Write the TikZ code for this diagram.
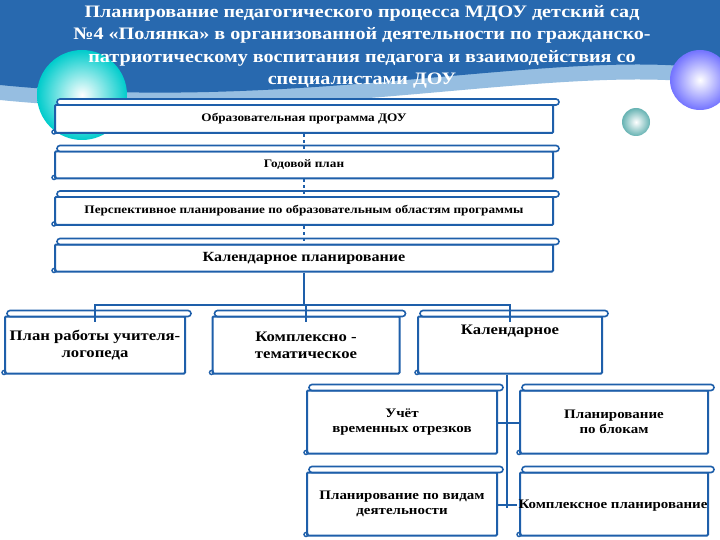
\documentclass[tikz,border=0pt]{standalone}
\usepackage{fontspec}
\setmainfont{Liberation Serif}
\newfontfamily\widefont[FakeStretch=1.15]{Liberation Serif}
\usetikzlibrary{positioning}
\definecolor{scrollblue}{RGB}{30,95,170}
\definecolor{bandblue}{RGB}{40,105,175}
\definecolor{waveblue}{RGB}{150,190,225}
\tikzset{
  scrollbox/.style={draw=scrollblue,line width=2pt,fill=white,rounded corners=1pt,
    inner sep=2pt,align=center},
  linkline/.style={draw=scrollblue,line width=1.6pt},
}
% rolled top strip and curl of a scroll node
\newcommand{\scrollroll}[1]{%
  \draw[scrollblue,line width=1.6pt,fill=white,rounded corners=3pt]
    ([xshift=3pt,yshift=-1pt]#1.north west) rectangle ([xshift=5pt,yshift=5pt]#1.north east);
  \draw[scrollblue,line width=1.4pt] ([yshift=2pt]#1.south west) circle (2pt);
}
\begin{document}
\begin{tikzpicture}[x=1pt,y=-1pt]
\useasboundingbox (0,0) rectangle (720,540);
\fill[white] (0,0) rectangle (720,540);
% header band
\fill[waveblue] (0,0) -- (720,0) -- (720,85) .. controls (560,60) and (300,130) .. (0,100) -- cycle;
\fill[bandblue] (0,0) -- (720,0) -- (720,70) .. controls (560,45) and (300,115) .. (0,85) -- cycle;
\shade[inner color=white,outer color=cyan!60!teal] (82,95) circle (45);
\shade[inner color=white,outer color=blue!55] (700,80) circle (30);
\shade[inner color=white,outer color=teal!60] (636,122) circle (14);
\node[text=white,font=\widefont\bfseries\fontsize{17.5}{22.5}\selectfont,align=center] (title) at (362,47)
  {Планирование педагогического процесса МДОУ детский сад\\
   №4 «Полянка» в организованной деятельности по гражданско-\\
   патриотическому воспитания педагога и взаимодействия со\\
   специалистами ДОУ};
% upper chain
\node[scrollbox,minimum width=498,minimum height=28,font=\widefont\bfseries\fontsize{11.5}{13}\selectfont] (prog) at (304,119) {Образовательная программа ДОУ};
\node[scrollbox,minimum width=498,minimum height=27,font=\widefont\bfseries\fontsize{11.5}{13}\selectfont] (year) at (304,165) {Годовой план};
\node[scrollbox,minimum width=498,minimum height=28,font=\widefont\bfseries\fontsize{11.5}{13}\selectfont] (persp) at (304,211) {Перспективное планирование по образовательным областям программы};
\node[scrollbox,minimum width=498,minimum height=27,font=\widefont\bfseries\fontsize{14}{16}\selectfont] (cal) at (304,258) {Календарное планирование};
\foreach \n in {prog,year,persp,cal} {\scrollroll{\n}}
\draw[linkline,dashed] (prog) -- (year);
\draw[linkline,dashed] (year) -- (persp);
\draw[linkline,dashed] (persp) -- (cal);
% middle row
\node[scrollbox,minimum width=180,minimum height=57,font=\widefont\bfseries\fontsize{14.5}{17}\selectfont] (logo) at (95,345) {План работы учителя-\\логопеда};
\node[scrollbox,minimum width=187,minimum height=57,font=\widefont\bfseries\fontsize{14.5}{17}\selectfont] (compl) at (306,345) {Комплексно -\\тематическое};
\node[scrollbox,minimum width=184,minimum height=57,font=\widefont\bfseries\fontsize{14.5}{17}\selectfont] (calend) at (510,345) {Календарное\\[14pt]};
\foreach \n in {logo,compl,calend} {\scrollroll{\n}}
\coordinate (fork) at (304,305);
\draw[linkline] (cal.south) -- (fork);
\draw[linkline] (fork) -| ([yshift=-6pt]logo.north);
\draw[linkline] (fork) -| ([yshift=-6pt]compl.north);
\draw[linkline] (fork) -| ([yshift=-6pt]calend.north);
% lower blocks
\node[scrollbox,minimum width=190,minimum height=63,font=\widefont\bfseries\fontsize{13}{15}\selectfont] (time) at (402,422) {Учёт\\временных отрезков};
\node[scrollbox,minimum width=188,minimum height=63,font=\widefont\bfseries\fontsize{13}{15}\selectfont] (block) at (614,422) {Планирование\\по блокам};
\node[scrollbox,minimum width=190,minimum height=63,font=\widefont\bfseries\fontsize{13}{15}\selectfont] (kind) at (402,504) {Планирование по видам\\деятельности};
\node[scrollbox,minimum width=188,minimum height=63] (cplan) at (614,504) {};
\foreach \n in {time,block,kind,cplan} {\scrollroll{\n}}
\node[font=\widefont\bfseries\fontsize{13}{15}\selectfont,inner sep=1pt] (cplantext) at (613,506) {Комплексное планирование};
\coordinate (stem) at (507,508);
\draw[linkline] ([xshift=-3pt]calend.south) -- (stem);
\draw[linkline] (time.east |- 0,423) -- (block.west |- 0,423);
\draw[linkline] (kind.east |- 0,505) -- (cplantext.west |- 0,505);
\end{tikzpicture}
\end{document}
